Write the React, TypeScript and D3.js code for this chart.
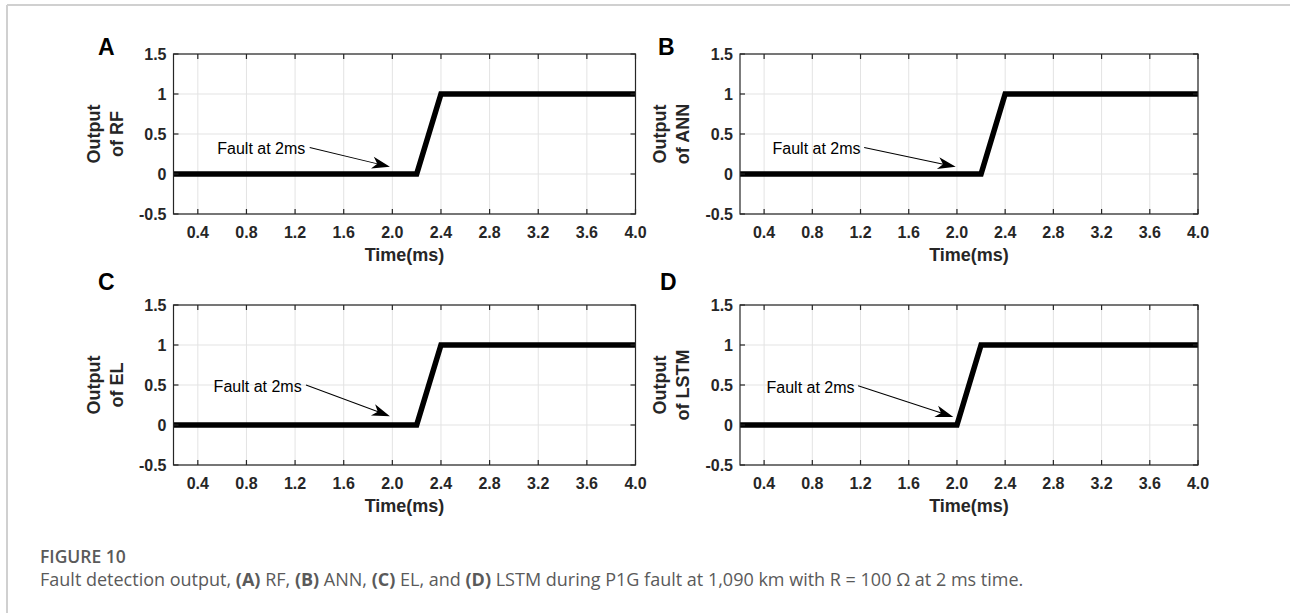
import React from 'react';
import * as d3 from 'd3';

// values
const panelLetters = ['A', 'B', 'C', 'D'];
const modelNames = ['RF', 'ANN', 'EL', 'LSTM'];

const timeRF = [0.2, 2.2, 2.4, 4.0];
const outRF = [0, 0, 1, 1];
const timeANN = [0.2, 2.2, 2.4, 4.0];
const outANN = [0, 0, 1, 1];
const timeEL = [0.2, 2.2, 2.4, 4.0];
const outEL = [0, 0, 1, 1];
const timeLSTM = [0.2, 2.0, 2.2, 4.0];
const outLSTM = [0, 0, 1, 1];

const xTicks = [0.4, 0.8, 1.2, 1.6, 2.0, 2.4, 2.8, 3.2, 3.6, 4.0];
const yTicks = [-0.5, 0, 0.5, 1, 1.5];
const yTickLabels = ['-0.5', '0', '0.5', '1', '1.5'];

const noteText = 'Fault at 2ms';
// annotation text start (x, baseline y), arrow start and arrow tip, in data units
const noteTextX = [0.56, 0.47, 0.53, 0.42];
const noteTextY = [0.25, 0.25, 0.41, 0.4];
const arrowFromX = [1.32, 1.23, 1.29, 1.18];
const arrowFromY = [0.33, 0.33, 0.5, 0.49];
const arrowToX = [1.98, 1.99, 1.98, 1.97];
const arrowToY = [0.09, 0.09, 0.11, 0.1];

const series = [
  { t: timeRF, v: outRF },
  { t: timeANN, v: outANN },
  { t: timeEL, v: outEL },
  { t: timeLSTM, v: outLSTM },
];

const W = 1290;
const H = 613;
const FONT = 'Liberation Sans, Arial, Helvetica, sans-serif';
const CAP_FONT = 'Open Sans, Lato, sans-serif';

const boxes = [
  { left: 173.5, right: 635.5, top: 54, bottom: 214, lx: 98, ly: 55 },
  { left: 740, right: 1198, top: 54, bottom: 214, lx: 658, ly: 55 },
  { left: 173.5, right: 635.5, top: 305, bottom: 465, lx: 98, ly: 290 },
  { left: 740, right: 1198, top: 305, bottom: 465, lx: 660, ly: 290 },
];

function Panel({ i }: { i: number }) {
  const b = boxes[i];
  const x = d3.scaleLinear().domain([0.2, 4.0]).range([b.left, b.right]);
  const y = d3.scaleLinear().domain([-0.5, 1.5]).range([b.bottom, b.top]);
  const s = series[i];
  const pts: [number, number][] = s.t.map((t, k) => [t, s.v[k]]);
  const line = d3.line<[number, number]>().x(d => x(d[0])).y(d => y(d[1]));

  const x1 = x(arrowFromX[i]), y1 = y(arrowFromY[i]);
  const x2 = x(arrowToX[i]), y2 = y(arrowToY[i]);
  const ang = Math.atan2(y2 - y1, x2 - x1) * 180 / Math.PI;
  const headLen = 18;
  const len = Math.hypot(x2 - x1, y2 - y1);

  const cy = (b.top + b.bottom) / 2;
  return (
    <g>
      {/* grid */}
      {xTicks.map(t => (
        <line key={'gx' + t} x1={x(t)} x2={x(t)} y1={b.top} y2={b.bottom} stroke="#e3e3e3" strokeWidth={1} />
      ))}
      {yTicks.map(t => (
        <line key={'gy' + t} x1={b.left} x2={b.right} y1={y(t)} y2={y(t)} stroke="#e3e3e3" strokeWidth={1} />
      ))}
      {/* data */}
      <path d={line(pts) || ''} fill="none" stroke="#000" strokeWidth={5.5} strokeLinejoin="miter" />
      {/* frame and inward ticks */}
      <rect x={b.left} y={b.top} width={b.right - b.left} height={b.bottom - b.top} fill="none" stroke="#262626" strokeWidth={1.2} />
      {xTicks.map(t => (
        <g key={'tx' + t}>
          <line x1={x(t)} x2={x(t)} y1={b.bottom} y2={b.bottom - 5} stroke="#262626" strokeWidth={1.2} />
          <line x1={x(t)} x2={x(t)} y1={b.top} y2={b.top + 5} stroke="#262626" strokeWidth={1.2} />
          <text x={x(t)} y={b.bottom + 24} textAnchor="middle" fontFamily={FONT} fontWeight="bold" fontSize={16} fill="#262626">
            {d3.format('.1f')(t)}
          </text>
        </g>
      ))}
      {yTicks.map((t, k) => (
        <g key={'ty' + t}>
          <line x1={b.left} x2={b.left + 5} y1={y(t)} y2={y(t)} stroke="#262626" strokeWidth={1.2} />
          <line x1={b.right} x2={b.right - 5} y1={y(t)} y2={y(t)} stroke="#262626" strokeWidth={1.2} />
          <text x={b.left - 7} y={y(t)} dy="0.36em" textAnchor="end" fontFamily={FONT} fontWeight="bold" fontSize={16} fill="#262626">
            {yTickLabels[k]}
          </text>
        </g>
      ))}
      {/* axis labels */}
      <text x={(b.left + b.right) / 2} y={b.bottom + 47} textAnchor="middle" fontFamily={FONT} fontWeight="bold" fontSize={18} fill="#262626">
        Time(ms)
      </text>
      <g transform={`translate(${b.left - 74},${cy}) rotate(-90)`}>
        <text x={0} y={0} textAnchor="middle" fontFamily={FONT} fontWeight="bold" fontSize={18} fill="#262626">Output</text>
        <text x={0} y={23} textAnchor="middle" fontFamily={FONT} fontWeight="bold" fontSize={18} fill="#262626">
          {'of ' + modelNames[i]}
        </text>
      </g>
      {/* annotation */}
      <text x={x(noteTextX[i])} y={y(noteTextY[i])} fontFamily={FONT} fontSize={16} fill="#000">{noteText}</text>
      <g transform={`translate(${x2},${y2}) rotate(${ang})`}>
        <line x1={-len} y1={0} x2={-headLen * 0.7} y2={0} stroke="#000" strokeWidth={1} />
        <path d={`M0,0 L${-headLen},${-6} L${-headLen * 0.72},0 L${-headLen},${6} Z`} fill="#000" />
      </g>
      {/* panel letter */}
      <text x={b.lx} y={b.ly} fontFamily={FONT} fontWeight="bold" fontSize={23} fill="#000">{panelLetters[i]}</text>
    </g>
  );
}

export default function App() {
  return (
    <svg width={W} height={H} style={{ position: 'absolute', left: 0, top: 0, background: '#fff' }}>
      <rect x={0} y={0} width={W} height={H} fill="#fff" />
      <line x1={7} x2={W} y1={5} y2={5} stroke="#d0d0d0" strokeWidth={2} />
      <line x1={7} x2={7} y1={5} y2={H} stroke="#d0d0d0" strokeWidth={2} />
      {panelLetters.map((_, i) => <Panel key={i} i={i} />)}
      <text x={40} y={563} fontFamily={CAP_FONT} fontWeight={600} fontSize={17.5} fill="#5a5a5a">FIGURE 10</text>
      <text x={40} y={586} fontFamily={CAP_FONT} fontSize={18} fill="#5a5a5a">
        Fault detection output, <tspan fontWeight="bold">(A)</tspan> RF, <tspan fontWeight="bold">(B)</tspan> ANN,{' '}
        <tspan fontWeight="bold">(C)</tspan> EL, and <tspan fontWeight="bold">(D)</tspan> LSTM during P1G fault at 1,090 km with R = 100 Ω at 2 ms time.
      </text>
    </svg>
  );
}
